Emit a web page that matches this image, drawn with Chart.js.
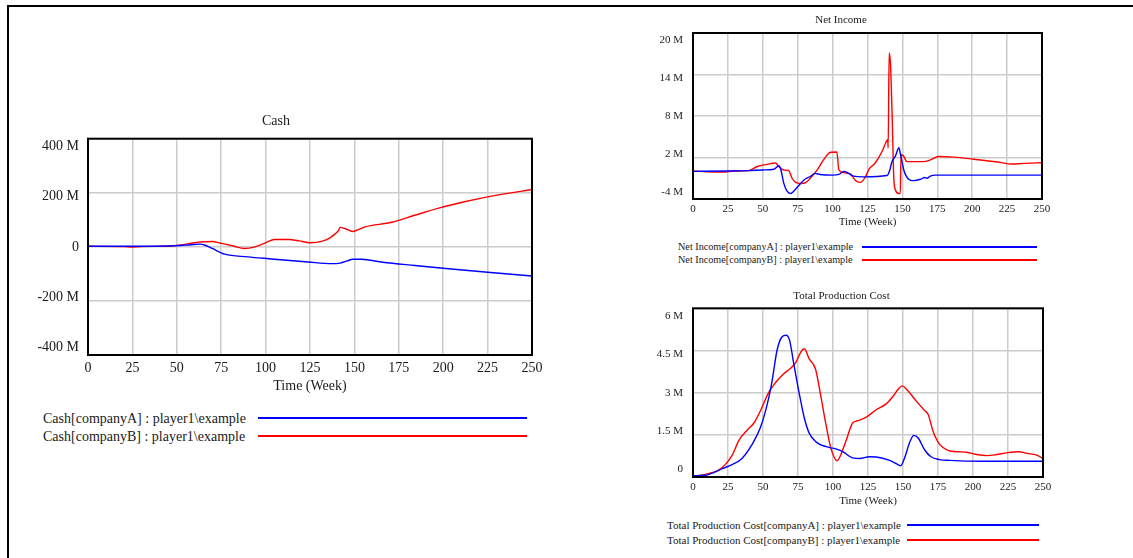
<!DOCTYPE html>
<html>
<head>
<meta charset="utf-8">
<script src="https://cdn.jsdelivr.net/npm/chart.js@4.4.1/dist/chart.umd.min.js"></script>
<style>
  body { margin: 0; width: 1133px; height: 558px; position: relative; overflow: hidden; background: #fff; font-family: "Liberation Serif", "Times New Roman", serif; color: #1a1a1a; }
  .frame { position: absolute; left: 7px; top: 5px; width: 1130px; height: 560px; border-top: 2px solid #000; border-left: 2px solid #000; }
  canvas { position: absolute; }
  .lg { position: absolute; white-space: nowrap; }
  .ln { position: absolute; height: 1.5px; }
</style>
</head>
<body>
<div class="frame"></div>
<canvas id="cash" width="524" height="295" style="left:20px;top:100px;width:524px;height:295px"></canvas>
<canvas id="income" width="414" height="229" style="left:640px;top:0px;width:414px;height:229px"></canvas>
<canvas id="cost" width="415" height="238" style="left:640px;top:270px;width:415px;height:238px"></canvas>
<div id="legends"></div>
<script>
// values in millions, weeks on x
const weekTicks = [0, 25, 50, 75, 100, 125, 150, 175, 200, 225, 250];

const cashWeeksA = [0, 25, 45, 52, 58, 63, 66, 70, 77, 90, 102, 124, 137, 142, 146, 149, 154, 166, 184, 203, 225, 250];
const cashA = [2, 2, 3, 5, 8, 10, 6, -6, -27, -37, -44, -56, -62, -60, -52, -46, -46, -57, -69, -81, -94, -108];
const cashWeeksB = [0, 20, 25, 30, 47, 51, 57, 63, 70, 75, 82, 88, 94, 100, 105, 113, 119, 125, 132, 136, 139, 141, 142, 145, 149, 156, 171, 184, 199, 212, 225, 250];
const cashB = [2, 1, -1, 1, 3, 6, 12, 18, 20, 13, 3, -6, 0, 15, 27, 27, 22, 15, 21, 32, 47, 60, 72, 67, 57, 74, 91, 117, 146, 167, 185, 212];

const incomeWeeksA = [0, 25, 40, 50, 58, 61.5, 63, 65, 67.5, 70, 72, 76, 79.5, 84, 87.5, 91, 100, 104.5, 108, 111.5, 115, 122, 139, 141, 142.5, 145, 147.5, 148.5, 151, 154.5, 158, 163, 166, 167.5, 170, 173.5, 250];
const incomeA = [0, 0.05, 0.1, 0.2, 0.3, 0.8, 0.2, -1.7, -2.9, -3.2, -2.9, -2, -1.25, -0.75, -0.3, -0.45, -0.55, -0.45, 0, -0.3, -0.7, -0.8, -0.6, 0.2, 1.4, 2.2, 3.4, 2.6, 0.2, -1.15, -1.35, -1.15, -0.9, -1.0, -0.7, -0.55, -0.55];
const incomeWeeksB = [0, 15, 22, 29, 40, 46, 53, 59, 61.5, 65, 68.5, 71, 73.5, 77, 80.5, 84, 89, 93.5, 98.5, 103, 104.5, 108, 113, 116, 120, 123.5, 126, 130.5, 135.5, 138, 139.5, 139.8, 140.5, 141.4, 142.6, 143.8, 145, 147.4, 148.5, 149, 150.5, 153.3, 165, 170, 176, 187, 201, 218, 228.5, 237, 250];
const incomeB = [0.05, -0.1, -0.1, 0.05, 0.1, 0.7, 1.0, 1.2, 0.7, 0.2, 0.1, -1.0, -1.6, -1.75, -1.65, -1.0, 0.2, 1.65, 2.75, 2.8, 0.2, -0.2, -0.4, -1.25, -1.6, -0.8, 0.3, 1.2, 2.9, 4.1, 4.6, 3.4, 17.1, 15.7, 8.5, -0.8, -2.7, -3.2, -3.2, 2.4, 2.3, 1.4, 1.4, 1.65, 2.15, 2.05, 1.75, 1.35, 1.05, 1.15, 1.25];

const costWeeksA = [0, 9, 16, 21, 28, 35, 42, 48, 53, 56.5, 60, 63.5, 66.5, 69, 72, 76, 79.5, 83, 88, 95, 102, 107, 114, 119, 126, 131, 140, 145, 148.3, 151, 155, 157.7, 161, 165.5, 170, 176, 183.5, 207, 250];
const costA = [0.04, 0.06, 0.18, 0.3, 0.44, 0.66, 1.14, 1.74, 2.58, 3.42, 4.5, 4.98, 5.04, 4.86, 4.02, 2.94, 2.1, 1.56, 1.24, 1.08, 1.0, 0.9, 0.68, 0.66, 0.72, 0.71, 0.6, 0.48, 0.4, 0.66, 1.26, 1.48, 1.38, 0.96, 0.72, 0.62, 0.59, 0.56, 0.56];
const costWeeksB = [0, 11, 18, 23, 28, 33, 39, 43.5, 48, 54, 59, 65, 70, 73.5, 77, 79.5, 83, 87.5, 91.5, 95, 98.5, 103, 105.5, 109.5, 114, 117.5, 123.5, 131, 138, 143, 146.5, 149.5, 152.5, 159.5, 165.5, 168, 171.5, 176.5, 182.5, 188.5, 195.5, 202.5, 210, 217, 224, 232.5, 238.5, 245.5, 250];
const costB = [0.02, 0.12, 0.24, 0.44, 0.78, 1.32, 1.68, 1.92, 2.34, 3.0, 3.36, 3.68, 3.88, 4.08, 4.44, 4.56, 4.2, 3.84, 2.82, 1.86, 1.02, 0.58, 0.78, 1.32, 1.92, 2.0, 2.12, 2.4, 2.6, 2.88, 3.12, 3.24, 3.12, 2.7, 2.36, 2.22, 1.62, 1.14, 0.94, 0.9, 0.88, 0.8, 0.76, 0.8, 0.86, 0.9, 0.84, 0.78, 0.66];

const cashLabels = ['Cash[companyA] : player1\\example', 'Cash[companyB] : player1\\example'];
const incomeLabels = ['Net Income[companyA] : player1\\example', 'Net Income[companyB] : player1\\example'];
const costLabels = ['Total Production Cost[companyA] : player1\\example', 'Total Production Cost[companyB] : player1\\example'];

const BLUE = '#0000ff';
const RED = '#ff0000';
const FONT = '"Liberation Serif", "Times New Roman", serif';

const pts = (xs, ys) => xs.map((x, i) => ({ x: x, y: ys[i] }));

// draws black box round the plot and the y labels (pulled in a bit at the ends, like Vensim)
const framePlugin = {
  id: 'frame',
  afterDraw(chart, args, opts) {
    const { ctx, chartArea: a } = chart;
    const ys = chart.scales.y;
    const mid = (a.top + a.bottom) / 2;
    const k = (a.bottom - a.top - 2 * opts.inset) / (a.bottom - a.top);
    ctx.save();
    ctx.font = opts.size + 'px ' + FONT;
    ctx.fillStyle = '#1a1a1a';
    ctx.textAlign = 'right';
    ctx.textBaseline = 'middle';
    ys.ticks.forEach(t => {
      const y = mid + (ys.getPixelForValue(t.value) - mid) * k;
      ctx.fillText(t.value === 0 ? '0' : t.value + ' M', a.left - opts.pad, y);
    });
    ctx.strokeStyle = '#000';
    ctx.lineWidth = 2;
    ctx.strokeRect(a.left, a.top, a.right - a.left, a.bottom - a.top);
    ctx.restore();
  }
};

function makeChart(id, cfg) {
  return new Chart(document.getElementById(id), {
    type: 'line',
    data: {
      datasets: [
        { label: cfg.labels[0], data: cfg.a, borderColor: BLUE, borderWidth: 1.4, pointRadius: 0, cubicInterpolationMode: 'monotone' },
        { label: cfg.labels[1], data: cfg.b, borderColor: RED, borderWidth: 1.4, pointRadius: 0, cubicInterpolationMode: 'monotone' }
      ]
    },
    options: {
      responsive: false,
      animation: false,
      layout: { padding: { left: 0, right: 12, top: 0, bottom: 0 } },
      plugins: {
        legend: { display: false },
        tooltip: { enabled: false },
        title: {
          display: true,
          text: cfg.title,
          color: '#1a1a1a',
          font: { family: FONT, size: cfg.size, weight: 'normal' },
          padding: { top: cfg.titlePad[0], bottom: cfg.titlePad[1] }
        },
        frame: { inset: cfg.inset, pad: cfg.yPad, size: cfg.size }
      },
      scales: {
        x: {
          type: 'linear',
          min: 0,
          max: 250,
          afterBuildTicks: s => { s.ticks = weekTicks.map(v => ({ value: v })); },
          afterFit: s => { s.height = cfg.xH; s.paddingLeft = 0; s.paddingRight = 0; },
          ticks: { color: '#1a1a1a', font: { family: FONT, size: cfg.size }, padding: cfg.xPad, maxRotation: 0, autoSkip: false },
          grid: { color: '#cccccc', lineWidth: 1.5, drawTicks: false },
          border: { display: false },
          title: { display: true, text: 'Time (Week)', color: '#1a1a1a', font: { family: FONT, size: cfg.size }, padding: { top: 0, bottom: 0 } }
        },
        y: {
          min: cfg.yMin,
          max: cfg.yMax,
          ticks: { display: false, stepSize: cfg.yStep },
          afterFit: s => { s.width = cfg.yW; },
          grid: { color: '#cccccc', lineWidth: 1.5, drawTicks: false },
          border: { display: false }
        }
      }
    },
    plugins: [framePlugin]
  });
}

makeChart('cash', {
  title: 'Cash', labels: cashLabels,
  a: pts(cashWeeksA, cashA), b: pts(cashWeeksB, cashB),
  yMin: -400, yMax: 400, yStep: 200,
  size: 14, titlePad: [12.6, 9.3], xH: 40, xPad: 5, yW: 68, yPad: 9, inset: 8
});

makeChart('income', {
  title: 'Net Income', labels: incomeLabels,
  a: pts(incomeWeeksA, incomeA), b: pts(incomeWeeksB, incomeB),
  yMin: -4, yMax: 20, yStep: 6,
  size: 11, titlePad: [13.4, 6.4], xH: 30, xPad: 4, yW: 53, yPad: 10, inset: 7
});

makeChart('cost', {
  title: 'Total Production Cost', labels: costLabels,
  a: pts(costWeeksA, costA), b: pts(costWeeksB, costB),
  yMin: 0, yMax: 6, yStep: 1.5,
  size: 11, titlePad: [19.4, 5.7], xH: 31, xPad: 4, yW: 53, yPad: 10, inset: 7.5
});

// legends: text then a coloured line, as in the original
function legend(labels, size, textX, rowsY, lineX1, lineX2) {
  const host = document.getElementById('legends');
  const colors = [BLUE, RED];
  labels.forEach((txt, i) => {
    const lh = Math.round(size * 1.2);
    const t = document.createElement('div');
    t.className = 'lg';
    t.textContent = txt;
    t.style.left = textX + 'px';
    t.style.top = (rowsY[i] - lh / 2) + 'px';
    t.style.fontSize = size + 'px';
    t.style.lineHeight = lh + 'px';
    host.appendChild(t);
    const l = document.createElement('div');
    l.className = 'ln';
    l.style.left = lineX1 + 'px';
    l.style.top = Math.round(rowsY[i] - 1) + 'px';
    l.style.width = (lineX2 - lineX1) + 'px';
    l.style.background = colors[i];
    host.appendChild(l);
  });
}

legend(cashLabels, 14, 43, [418, 436], 258, 527);
legend(incomeLabels, 10.2, 678, [247, 260], 862, 1037);
legend(costLabels, 11, 667, [525, 540], 907, 1039);
</script>
</body>
</html>
